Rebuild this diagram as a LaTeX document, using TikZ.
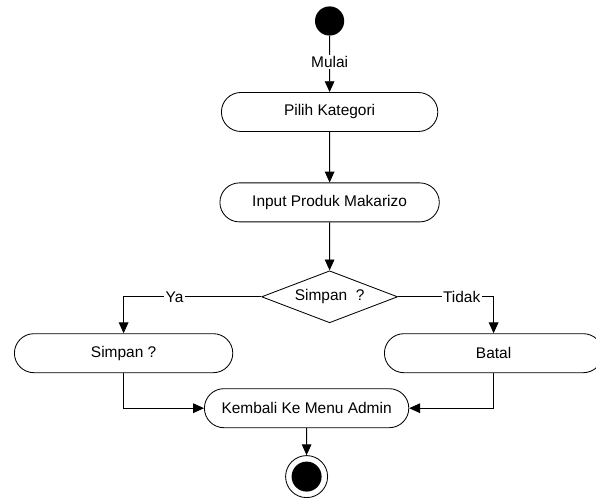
\documentclass[tikz,border=0pt]{standalone}
\usepackage{fontspec}
\setmainfont{Liberation Sans}
\usepackage{tikz}
\usetikzlibrary{arrows.meta, shapes.geometric, shapes.misc, positioning}

\begin{document}
\begin{tikzpicture}[on grid, line width=0.6pt, font=\fontsize{11}{13}\selectfont,
    aksi/.style={rounded rectangle, draw, minimum height=0.975cm, inner sep=2pt, align=center},
    keputusan/.style={diamond, draw, aspect=2.6, minimum width=3.4cm, minimum height=1.3cm, inner sep=0pt},
    bulat/.style={circle, fill=black, inner sep=0pt},
    panah/.style={-{Triangle[length=0.27cm, width=0.24cm]}},
    teks/.style={fill=white, inner sep=1pt}]

        \useasboundingbox (0,0) rectangle (14.9,12.45);

        \node[bulat, minimum size=0.73cm] (mulai) at (8.24,11.925) {};

        \node[aksi, minimum width=5.55cm, below=2.275cm of mulai] (pilih) {Pilih Kategori};

        \node[aksi, minimum width=5.625cm, below=2.26cm of pilih] (input) {Input Produk Makarizo};

        \node[keputusan, below=2.36cm of input] (simpan) {Simpan\ \ ?};

        \node[aksi, minimum width=5.6cm, below left=1.41cm and 5.15cm of simpan] (ya) {Simpan ?};

        \node[aksi, minimum width=5.6cm, below right=1.41cm and 4.1cm of simpan] (batal) {Batal};

        \node[aksi, minimum width=5.25cm, below right=1.375cm and 4.575cm of ya] (kembali) {Kembali Ke Menu Admin};

        \node[circle, draw, minimum size=1.05cm, inner sep=0pt, below=1.71cm of kembali] (selesai) {};
        \node[bulat, minimum size=0.75cm] (selesaiisi) at (selesai) {};

        \path[panah]
        (mulai) edge node[teks, pos=0.46] {Mulai} (pilih)
        (pilih) edge (input)
        (input) edge (simpan)
        (kembali) edge (selesai);

        \draw[panah] (simpan.west) -| node[teks, pos=0.315] {Ya} (ya.north);
        \draw[panah] (simpan.east) -| node[teks, pos=0.333] {Tidak} (batal.north);
        \draw[panah] (ya.south) |- (kembali.west);
        \draw[panah] (batal.south) |- (kembali.east);

    \end{tikzpicture}
\end{document}
